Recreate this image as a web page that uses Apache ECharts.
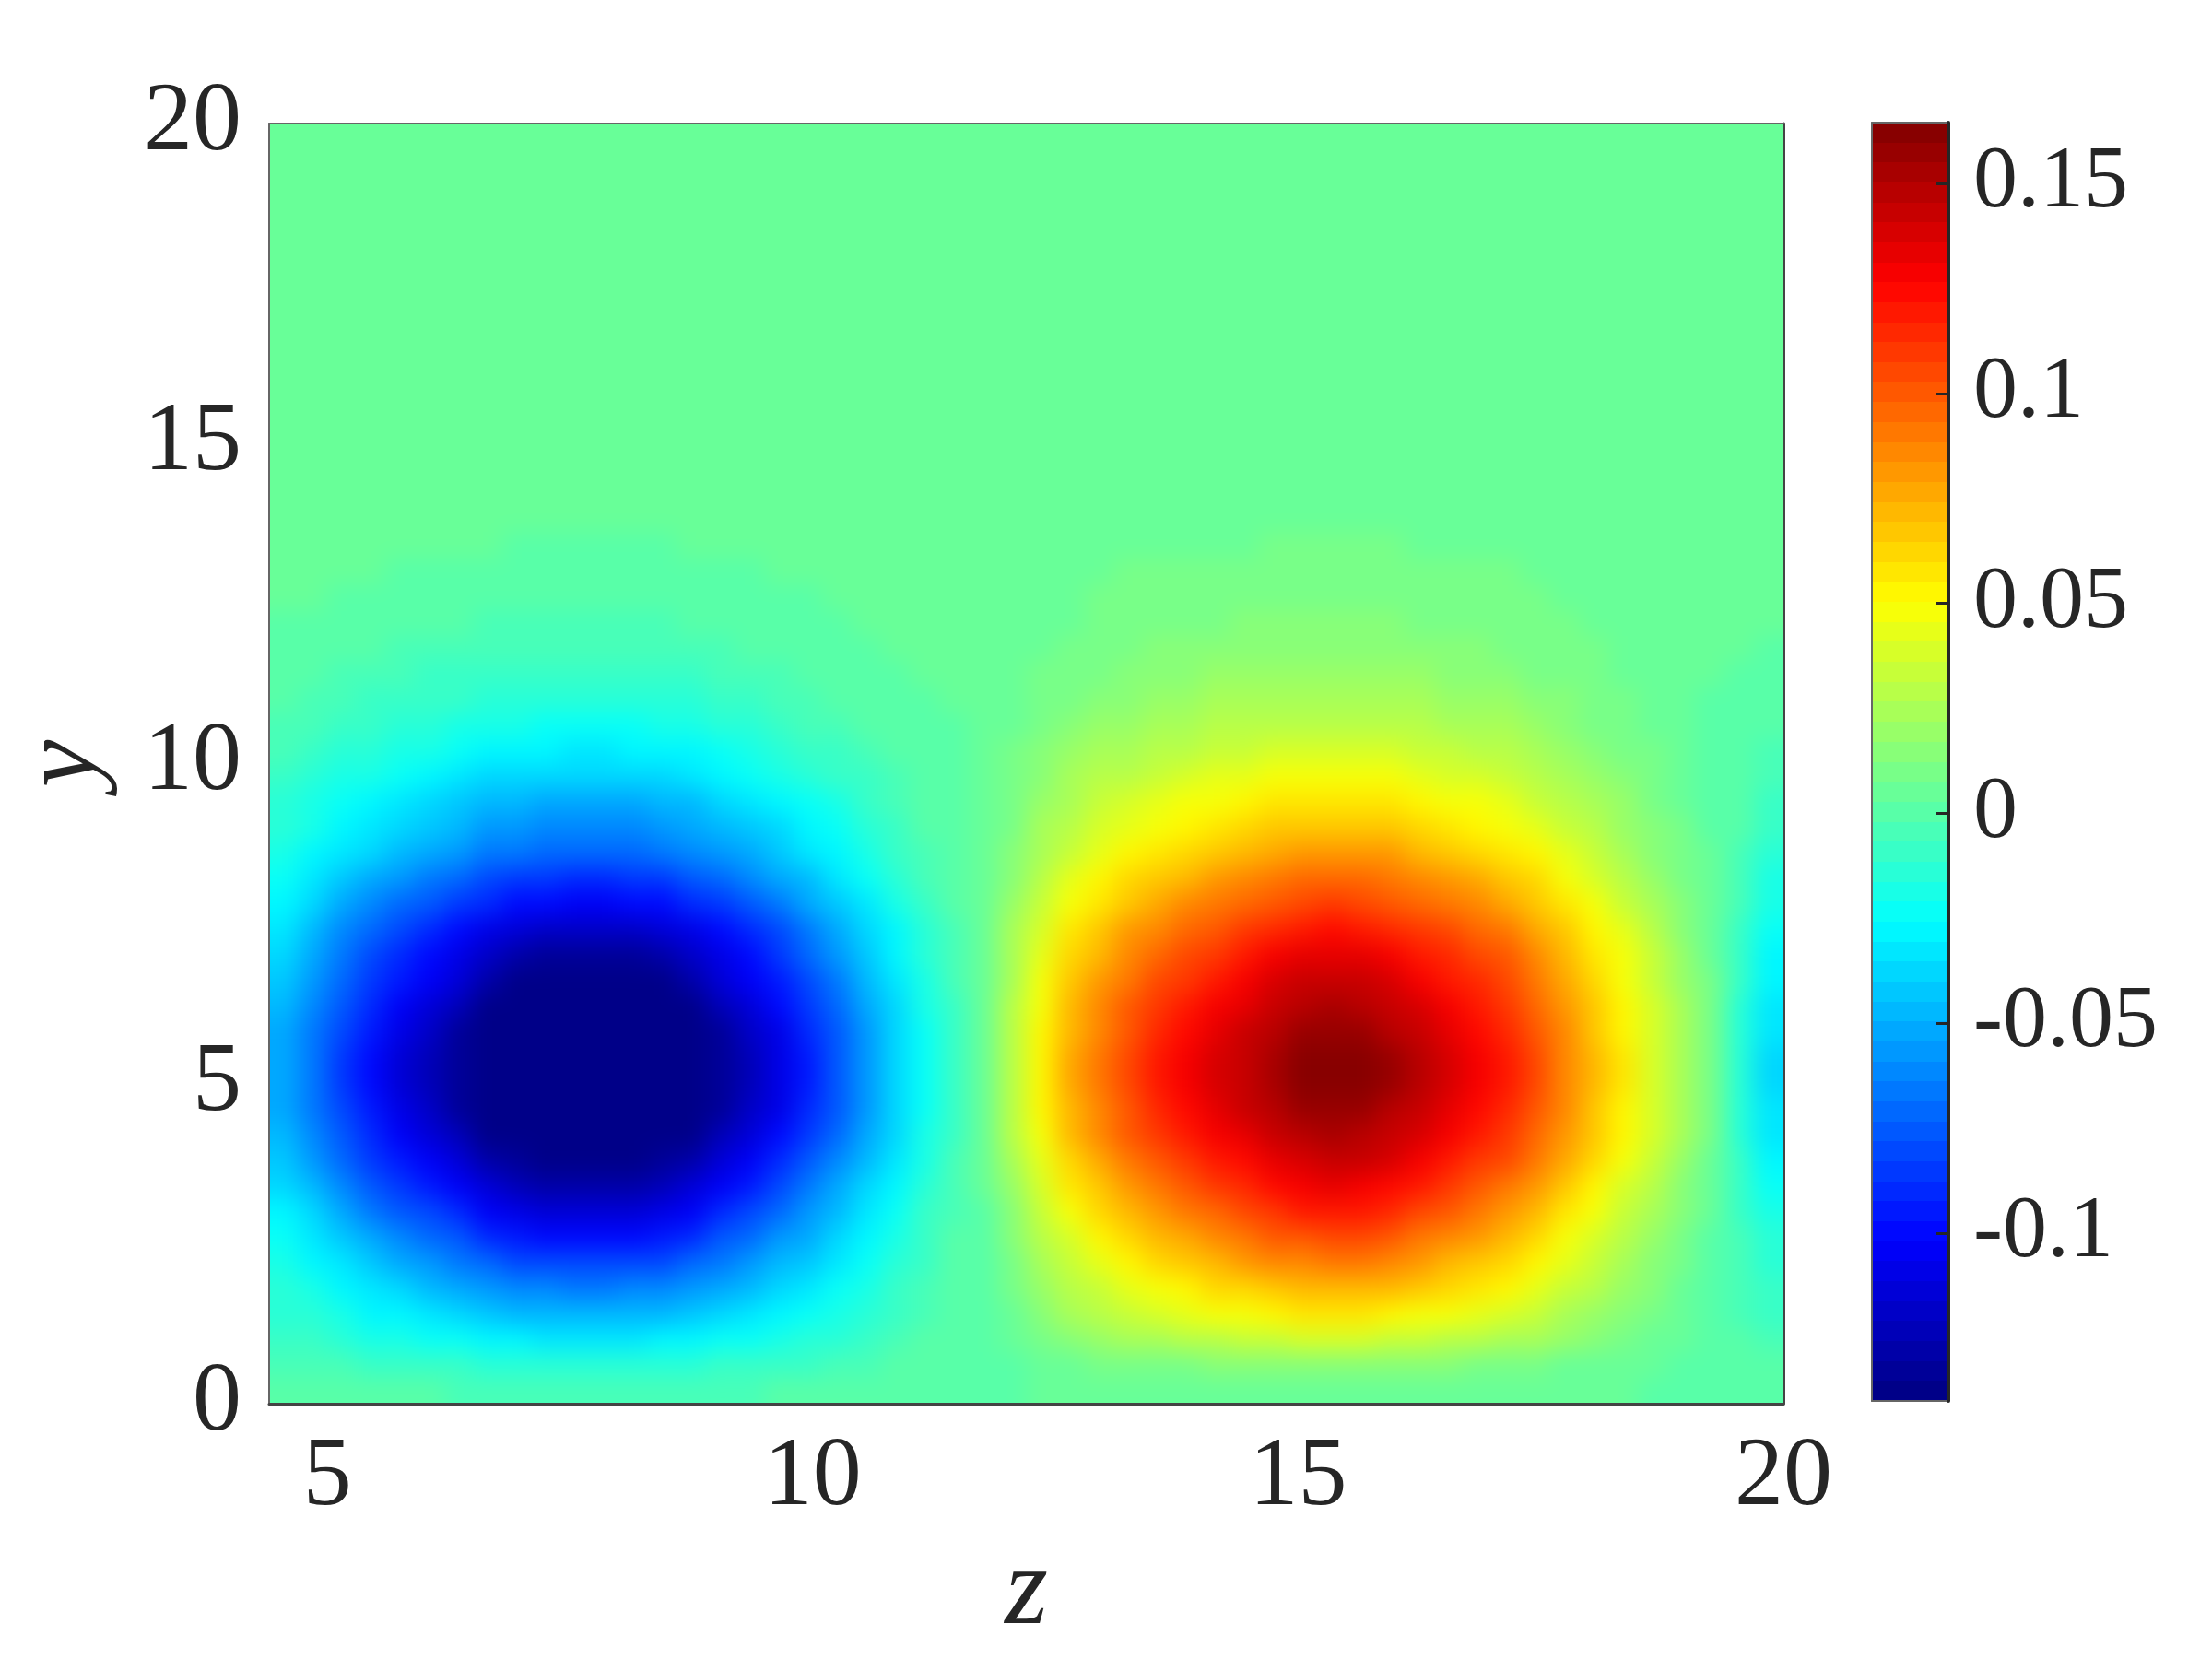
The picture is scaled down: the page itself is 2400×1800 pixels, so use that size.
<!DOCTYPE html>
<html>
<head>
<meta charset="utf-8">
<title>contour</title>
<style>
html, body { margin: 0; padding: 0; background: #fff; }
#chart { width: 2400px; height: 1800px; }
/* soften the cell edges of the field layer only, the reference is a fine contour fill */
#chart canvas[data-zr-dom-id="zr_1"] {
    filter: blur(12px);
    clip-path: inset(134px 465px 277px 292px);
}
</style>
<script src="https://cdn.jsdelivr.net/npm/echarts@6/dist/echarts.min.js"></script>
</head>
<body>
<div id="chart"></div>
<script>
var zEdges = [4.4,4.7,5,5.3,5.6,5.9,6.2,6.5,6.8,7.1,7.4,7.7,8,8.3,8.6,8.9,9.2,9.5,9.8,10.1,10.4,10.7,11,11.3,11.6,11.9,12.2,12.5,12.8,13.1,13.4,13.7,14,14.3,14.6,14.9,15.2,15.5,15.8,16.1,16.4,16.7,17,17.3,17.6,17.9,18.2,18.5,18.8,19.1,19.4,19.7,20];
var yEdges = [0,0.4,0.8,1.2,1.6,2,2.4,2.8,3.2,3.6,4,4.4,4.8,5.2,5.6,6,6.4,6.8,7.2,7.6,8,8.4,8.8,9.2,9.6,10,10.4,10.8,11.2,11.6,12,12.4,12.8,13.2,13.6,20];

// values, in thousandths, one row per y band, bottom first
var fieldRows = [
[-1,-1,-2,-2,-2,-2,-3,-3,-3,-3,-3,-3,-3,-3,-3,-3,-3,-2,-2,-2,-1,-1,0,1,2,2,3,3,4,4,4,5,5,5,5,5,5,5,5,5,5,5,4,4,4,3,3,2,2,1,0,0],
[-3,-5,-6,-8,-9,-10,-11,-12,-13,-14,-14,-14,-14,-13,-12,-11,-10,-8,-7,-5,-4,-2,-1,0,0,2,4,6,8,9,11,12,13,14,15,16,16,16,15,14,13,12,11,9,7,6,4,3,1,0,-1,-2],
[-7,-10,-13,-17,-20,-22,-24,-28,-30,-31,-31,-31,-31,-30,-28,-24,-22,-19,-16,-12,-9,-5,-2,-1,0,5,10,15,19,22,25,28,31,33,36,37,38,38,36,33,31,29,26,22,18,14,10,6,3,1,-2,-5],
[-12,-16,-21,-26,-30,-34,-38,-43,-46,-48,-48,-48,-48,-46,-43,-38,-34,-29,-24,-19,-13,-8,-4,-1,1,7,15,22,28,34,38,42,46,50,54,56,57,56,54,50,47,43,39,33,26,21,15,10,5,1,-3,-8],
[-15,-21,-28,-35,-40,-45,-51,-57,-61,-63,-64,-64,-63,-61,-57,-51,-45,-38,-32,-25,-18,-11,-5,-1,1,9,19,28,36,44,50,55,60,64,69,73,74,73,70,65,60,56,51,43,34,27,19,13,7,1,-4,-11],
[-20,-27,-35,-44,-52,-58,-65,-73,-79,-81,-82,-82,-81,-79,-73,-65,-58,-49,-41,-32,-23,-14,-7,-2,1,11,23,35,44,53,60,67,73,79,85,88,90,89,85,79,74,68,61,52,42,32,24,15,8,2,-5,-13],
[-24,-33,-43,-53,-62,-70,-78,-88,-95,-98,-99,-99,-98,-95,-88,-78,-70,-59,-50,-39,-28,-17,-8,-2,1,13,27,40,51,62,70,77,84,91,98,102,104,103,98,91,85,79,71,60,48,37,27,18,10,2,-6,-16],
[-30,-40,-51,-64,-74,-82,-91,-102,-109,-113,-114,-114,-113,-109,-102,-91,-82,-71,-59,-47,-34,-22,-11,-3,2,17,33,49,60,73,81,90,97,105,112,117,119,118,113,105,98,91,83,71,58,46,34,23,13,4,-8,-21],
[-36,-47,-60,-74,-84,-93,-103,-115,-123,-127,-128,-128,-127,-123,-115,-103,-93,-81,-68,-54,-40,-26,-14,-4,3,20,39,56,68,81,92,101,109,116,125,130,132,130,125,118,109,102,93,81,67,52,40,27,16,5,-9,-25],
[-42,-55,-69,-83,-94,-104,-113,-127,-134,-139,-140,-140,-139,-134,-127,-113,-104,-91,-77,-62,-46,-31,-18,-6,4,24,44,63,77,90,101,111,119,126,135,140,143,141,136,127,119,112,103,89,75,60,46,32,19,6,-10,-29],
[-48,-62,-78,-92,-104,-114,-125,-138,-140,-140,-140,-140,-140,-140,-138,-125,-114,-101,-86,-70,-53,-36,-21,-8,6,28,50,70,84,98,109,119,127,135,144,149,152,150,145,136,128,121,111,97,83,67,52,37,22,8,-12,-33],
[-50,-66,-82,-97,-110,-120,-131,-140,-140,-140,-140,-140,-140,-140,-140,-131,-120,-107,-90,-74,-56,-38,-22,-8,6,29,52,72,88,102,114,123,132,141,149,155,158,156,150,142,133,125,116,101,86,69,54,39,23,9,-13,-35],
[-52,-68,-84,-100,-113,-124,-135,-140,-140,-140,-140,-140,-140,-140,-140,-135,-124,-110,-93,-76,-58,-40,-23,-8,6,30,54,75,90,105,117,127,136,145,154,160,163,161,155,146,137,129,119,104,88,72,56,40,24,9,-13,-36],
[-52,-68,-84,-100,-113,-124,-135,-140,-140,-140,-140,-140,-140,-140,-140,-135,-124,-110,-93,-76,-58,-40,-23,-8,6,30,54,75,90,105,117,127,136,145,154,160,163,161,155,146,137,129,119,104,88,72,56,40,24,9,-13,-36],
[-50,-66,-82,-97,-110,-120,-131,-140,-140,-140,-140,-140,-140,-140,-140,-131,-120,-107,-90,-74,-56,-38,-22,-8,6,29,52,72,88,102,114,123,132,141,149,155,158,156,150,142,133,125,116,101,86,69,54,39,23,9,-13,-35],
[-48,-62,-78,-92,-104,-114,-125,-138,-140,-140,-140,-140,-140,-140,-138,-125,-114,-101,-86,-70,-53,-36,-21,-8,6,28,50,70,84,98,109,119,127,135,144,149,152,150,145,136,128,121,111,97,83,67,52,37,22,8,-12,-33],
[-44,-57,-72,-86,-97,-106,-116,-129,-136,-140,-140,-140,-140,-136,-129,-116,-106,-94,-80,-65,-49,-33,-19,-6,5,26,47,66,80,93,104,112,120,128,136,141,144,142,137,129,121,114,105,92,78,63,49,35,21,8,-10,-30],
[-38,-52,-66,-79,-90,-99,-108,-120,-127,-131,-132,-132,-131,-127,-120,-108,-99,-87,-73,-59,-44,-30,-16,-5,5,24,44,61,74,87,96,105,112,119,127,132,134,132,127,120,113,106,98,86,72,59,46,33,19,7,-9,-27],
[-33,-46,-60,-71,-81,-90,-98,-109,-115,-119,-120,-120,-119,-115,-109,-98,-90,-79,-66,-53,-39,-26,-13,-4,5,22,40,56,68,79,88,95,102,109,115,120,122,120,116,109,103,97,89,78,66,53,41,29,17,6,-8,-24],
[-28,-38,-50,-60,-69,-76,-83,-92,-98,-101,-102,-102,-101,-98,-92,-83,-75,-65,-54,-43,-31,-19,-9,-2,4,18,34,48,59,69,77,84,90,96,102,106,108,106,102,96,90,85,78,68,57,46,35,24,14,5,-6,-20],
[-23,-32,-41,-51,-58,-65,-71,-79,-84,-87,-88,-88,-87,-84,-78,-70,-63,-54,-45,-35,-24,-14,-6,-1,4,16,30,42,52,61,68,74,80,85,91,94,96,95,91,85,80,75,69,60,50,40,30,21,12,4,-5,-17],
[-19,-26,-33,-39,-45,-51,-57,-64,-68,-70,-71,-71,-70,-68,-63,-56,-50,-43,-35,-27,-18,-10,-4,0,4,14,26,36,45,53,59,64,69,74,78,81,83,82,79,74,69,64,59,51,43,34,25,17,10,3,-3,-13],
[-15,-21,-27,-33,-38,-44,-49,-55,-59,-60,-61,-61,-60,-58,-54,-47,-42,-36,-29,-22,-14,-8,-2,0,4,12,22,30,37,44,50,54,58,62,65,68,69,68,66,62,58,54,49,42,35,28,21,14,8,2,-2,-10],
[-12,-17,-22,-27,-32,-36,-41,-46,-49,-50,-51,-51,-50,-48,-45,-39,-34,-29,-23,-17,-11,-5,-1,1,4,11,19,26,32,38,43,46,50,53,56,58,59,58,56,53,49,46,42,36,30,24,18,12,7,2,-1,-8],
[-9,-13,-17,-21,-25,-28,-32,-36,-38,-39,-40,-40,-39,-37,-34,-29,-25,-21,-16,-11,-7,-3,0,1,4,10,16,22,27,31,35,38,41,43,46,47,48,47,46,43,40,37,33,28,23,18,14,9,5,2,0,-6],
[-6,-9,-12,-15,-18,-21,-24,-27,-29,-30,-31,-31,-30,-28,-26,-22,-18,-14,-11,-7,-4,-1,1,2,3,8,13,18,22,26,29,31,33,35,37,38,39,38,37,35,32,30,27,23,19,15,11,8,4,2,1,-3],
[-4,-6,-9,-11,-13,-15,-17,-19,-21,-22,-23,-23,-22,-20,-18,-15,-12,-9,-6,-4,-2,0,1,2,3,7,11,15,18,21,23,25,27,28,30,31,31,31,30,28,26,24,22,19,15,12,9,6,4,2,1,-1],
[-2,-3,-5,-7,-8,-10,-11,-13,-14,-15,-15,-15,-15,-14,-12,-10,-7,-5,-3,-1,0,1,2,3,3,6,9,12,15,17,19,21,22,23,24,25,25,25,24,23,21,20,18,15,13,10,8,6,3,2,1,0],
[0,-2,-3,-4,-5,-7,-8,-9,-10,-10,-11,-11,-10,-10,-8,-6,-4,-3,-1,0,1,2,3,3,4,5,8,10,12,14,16,17,18,19,20,20,20,20,19,18,17,16,14,12,11,9,7,5,4,3,2,1],
[1,0,-1,-2,-3,-4,-5,-5,-6,-6,-6,-6,-6,-5,-5,-3,-2,-1,0,1,2,3,3,4,4,5,7,9,10,12,13,14,15,15,16,16,16,16,16,15,14,13,12,10,9,8,6,5,4,3,3,2],
[2,1,1,0,-1,-2,-2,-3,-3,-3,-3,-3,-3,-3,-2,-2,-1,0,1,2,3,3,4,4,4,5,6,7,9,10,11,12,12,13,13,13,13,13,13,12,12,11,10,9,8,6,5,5,4,4,3,3],
[3,3,2,2,1,0,0,-1,-1,-1,-1,-2,-2,-1,-1,0,0,1,2,3,3,4,4,4,5,5,5,6,8,8,9,9,10,10,11,11,11,11,11,10,10,9,8,8,7,6,5,5,5,4,4,4],
[4,4,3,3,2,2,2,1,1,1,0,0,0,1,1,1,2,3,3,4,4,5,5,5,5,5,5,5,6,8,8,8,9,9,9,9,9,9,9,9,9,8,8,7,6,5,5,5,5,5,5,4],
[5,5,5,4,4,3,3,3,2,2,2,2,2,2,3,3,4,4,5,5,5,5,5,5,5,5,5,5,5,5,6,6,7,7,8,8,8,8,8,7,7,6,6,5,5,5,5,5,5,5,5,5],
[4,4,4,4,4,4,4,4,4,4,4,4,4,4,4,4,4,4,4,4,4,4,4,4,4,4,4,4,4,4,4,4,4,4,4,4,4,4,4,4,4,4,4,4,4,4,4,4,4,4,4,4]
];

var colorMin = -0.14;
var colorMax = 0.1645;
var levelCount = 64;
var jetStops = ['#000080','#0000FF','#0080FF','#00FFFF','#80FF80','#FFFF00','#FF8000','#FF0000','#800000'];
var zTicks = [5, 10, 15, 20];
var barTicks = [-0.1, -0.05, 0, 0.05, 0.1, 0.15];

var cells = [];
fieldRows.forEach(function (row, j) {
    row.forEach(function (v, i) {
        cells.push([zEdges[i], zEdges[i + 1], yEdges[j], yEdges[j + 1], v / 1000]);
    });
});

// one flat band per colour level
var step = (colorMax - colorMin) / levelCount;
var pieces = [];
var barCells = [];
for (var k = 0; k < levelCount; k++) {
    var lo = colorMin + k * step;
    var t = (k + 0.5) / levelCount * (jetStops.length - 1);
    var n = Math.floor(t);
    pieces.push({
        min: lo,
        max: lo + step,
        color: echarts.color.lerp(t - n, [jetStops[n], jetStops[n + 1]])
    });
    barCells.push([0, 1, lo, lo + step, lo + step / 2]);
}

function cellRect(api, pad) {
    var a = api.coord([api.value(0), api.value(3)]);
    var b = api.coord([api.value(1), api.value(2)]);
    var x0 = Math.round(a[0]);
    var y0 = Math.round(a[1]);
    var x1 = Math.round(b[0]);
    var y1 = Math.round(b[1]);
    // outer cells run past the frame so the blur does not fade at the edge
    if (pad) {
        if (api.value(0) === zEdges[0]) x0 -= pad;
        if (api.value(1) === zEdges[zEdges.length - 1]) x1 += pad;
        if (api.value(2) === yEdges[0]) y1 += pad;
        if (api.value(3) === yEdges[yEdges.length - 1]) y0 -= pad;
    }
    return { x: x0, y: y0, width: x1 - x0, height: y1 - y0 };
}

function renderField(params, api) {
    return { type: 'rect', shape: cellRect(api, 50), style: { fill: api.visual('color') }, silent: true };
}

function renderBar(params, api) {
    return { type: 'rect', shape: cellRect(api, 0), style: { fill: api.visual('color') }, silent: true };
}

var textColor = '#262626';
var serif = '"Liberation Serif", serif';
var thinLine = { show: true, onZero: false, lineStyle: { color: '#666', width: 2 } };
var darkLine = { show: true, onZero: false, lineStyle: { color: '#444', width: 3 } };

var chart = echarts.init(document.getElementById('chart'));
chart.setOption({
    backgroundColor: '#fff',
    animation: false,
    grid: [
        { left: 292, top: 134, width: 1643, height: 1389 },
        { left: 2031, top: 133, width: 83, height: 1387 }
    ],
    visualMap: {
        type: 'piecewise',
        show: false,
        dimension: 4,
        seriesIndex: [0, 1],
        pieces: pieces
    },
    xAxis: [
        {
            type: 'value', gridIndex: 0, position: 'bottom', min: 4.4, max: 20, zlevel: 2,
            name: 'z', nameLocation: 'middle', nameGap: 146,
            nameTextStyle: { fontFamily: serif, fontStyle: 'italic', fontSize: 120, color: textColor },
            axisLine: darkLine,
            axisTick: { show: false },
            splitLine: { show: false },
            axisLabel: {
                customValues: zTicks, margin: 28,
                fontFamily: serif, fontSize: 106, color: textColor
            }
        },
        {
            type: 'value', gridIndex: 0, position: 'top', min: 4.4, max: 20, zlevel: 2,
            axisLine: thinLine, axisTick: { show: false }, axisLabel: { show: false }, splitLine: { show: false }
        },
        {
            type: 'value', gridIndex: 1, position: 'bottom', min: 0, max: 1, zlevel: 2, z: 5,
            axisLine: thinLine, axisTick: { show: false }, axisLabel: { show: false }, splitLine: { show: false }
        },
        {
            type: 'value', gridIndex: 1, position: 'top', min: 0, max: 1, zlevel: 2, z: 5,
            axisLine: thinLine, axisTick: { show: false }, axisLabel: { show: false }, splitLine: { show: false }
        }
    ],
    yAxis: [
        {
            type: 'value', gridIndex: 0, position: 'left', min: 0, max: 20, interval: 5, zlevel: 2,
            name: 'y', nameLocation: 'middle', nameGap: 163, nameRotate: 90,
            nameTextStyle: { fontFamily: serif, fontStyle: 'italic', fontSize: 116, color: textColor },
            axisLine: thinLine,
            axisTick: { show: false },
            splitLine: { show: false },
            axisLabel: {
                margin: 30, padding: [0, 0, 16, 0],
                fontFamily: serif, fontSize: 106, color: textColor
            }
        },
        {
            type: 'value', gridIndex: 0, position: 'right', min: 0, max: 20, zlevel: 2,
            axisLine: darkLine, axisTick: { show: false }, axisLabel: { show: false }, splitLine: { show: false }
        },
        {
            type: 'value', gridIndex: 1, position: 'left', min: colorMin, max: colorMax, zlevel: 2, z: 5,
            axisLine: thinLine, axisTick: { show: false }, axisLabel: { show: false }, splitLine: { show: false }
        },
        {
            type: 'value', gridIndex: 1, position: 'right', min: colorMin, max: colorMax, zlevel: 2, z: 6,
            axisLine: { show: true, onZero: false, lineStyle: { color: textColor, width: 4 } },
            axisTick: {
                show: true, inside: true, length: 13, customValues: barTicks,
                lineStyle: { color: textColor, width: 3 }
            },
            splitLine: { show: false },
            axisLabel: {
                customValues: barTicks, margin: 27, padding: [0, 0, 16, 0],
                fontFamily: serif, fontSize: 96, color: textColor,
                formatter: function (v) { return String(v); }
            }
        }
    ],
    series: [
        {
            type: 'custom', xAxisIndex: 0, yAxisIndex: 0, zlevel: 1, renderItem: renderField,
            encode: { x: [0, 1], y: [2, 3] }, data: cells
        },
        {
            type: 'custom', xAxisIndex: 2, yAxisIndex: 2, zlevel: 2, z: 1, renderItem: renderBar,
            encode: { x: [0, 1], y: [2, 3] }, data: barCells
        }
    ]
});
</script>
</body>
</html>
